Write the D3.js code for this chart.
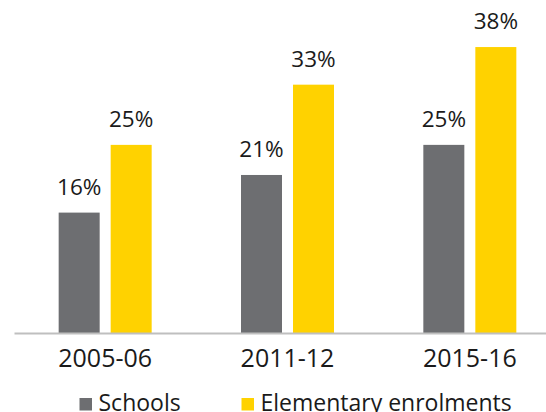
<!DOCTYPE html>
<html lang="en">
<head>
    <meta charset="utf-8">
    <title>Schools vs elementary enrolments</title>
    <script src="https://d3js.org/d3.v7.min.js"></script>
    <style>
        body { margin: 0; background: #fff; }
        svg { display: block; font-family: "Open Sans", sans-serif; }
    </style>
</head>
<body>
    <div id="chart"></div>
    <script>
        // data (percent)
        const years = ["2005-06", "2011-12", "2015-16"];
        const seriesNames = ["Schools", "Elementary enrolments"];
        const schools = [16, 21, 25];
        const enrolments = [25, 33, 38];
        const colors = ["#6d6e71", "#ffd200"];

        const width = 546,
            height = 412,
            baseY = 333;

        const svg = d3.select("#chart")
            .append("svg")
            .attr("width", width)
            .attr("height", height);

        // plot runs a bit past the right edge, like the source image
        const x0 = d3.scaleBand()
            .domain(years)
            .range([14, 561])
            .padding(0);

        const x1 = d3.scaleBand()
            .domain(seriesNames)
            .range([0, 93])
            .paddingInner(0.2115)
            .paddingOuter(0);

        const y = d3.scaleLinear()
            .domain([0, 40])
            .range([baseY, 32]);

        const groupOffset = (x0.bandwidth() - 93) / 2;

        const rows = years.map((yr, i) => ({
            year: yr,
            values: [schools[i], enrolments[i]]
        }));

        const group = svg.selectAll("g.group")
            .data(rows)
            .enter()
            .append("g")
            .attr("class", "group")
            .attr("transform", (d) => `translate(${x0(d.year) + groupOffset},0)`);

        const bar = group.selectAll("g.bar")
            .data((d) => d.values.map((v, j) => ({ key: seriesNames[j], value: v, idx: j })))
            .enter()
            .append("g")
            .attr("class", "bar");

        bar.append("rect")
            .attr("x", (d) => x1(d.key))
            .attr("y", (d) => y(d.value))
            .attr("width", x1.bandwidth())
            .attr("height", (d) => baseY - y(d.value))
            .attr("fill", (d) => colors[d.idx]);

        bar.append("text")
            .attr("x", (d) => x1(d.key) + x1.bandwidth() / 2)
            .attr("y", (d) => y(d.value) - 18)
            .attr("text-anchor", "middle")
            .attr("font-size", "22.5px")
            .attr("fill", "#1a1a1a")
            .text((d) => d.value + "%");

        // x axis: plain gray base line, no ticks
        const xAxis = d3.axisBottom(x0).tickSize(0).tickPadding(0);
        const axisG = svg.append("g")
            .attr("transform", `translate(0,${baseY})`)
            .call(xAxis);
        axisG.select(".domain")
            .attr("stroke", "#bfbfbf")
            .attr("stroke-width", 2);
        axisG.selectAll("text")
            .attr("font-family", "Open Sans, sans-serif")
            .attr("font-size", "25px")
            .attr("fill", "#1a1a1a")
            .attr("dy", null)
            .attr("y", 34);

        // legend at the bottom (cut off by the frame, as in the source)
        const legendX = [79.5, 241.5];
        const legend = svg.selectAll("g.legend")
            .data(seriesNames)
            .enter()
            .append("g")
            .attr("class", "legend")
            .attr("transform", (d, i) => `translate(${legendX[i]},398)`);

        legend.append("rect")
            .attr("width", 12.5)
            .attr("height", 12.5)
            .attr("fill", (d, i) => colors[i]);

        legend.append("text")
            .attr("x", 19)
            .attr("y", 13)
            .attr("font-size", "23px")
            .attr("fill", "#1a1a1a")
            .text((d) => d);
    </script>
</body>
</html>
